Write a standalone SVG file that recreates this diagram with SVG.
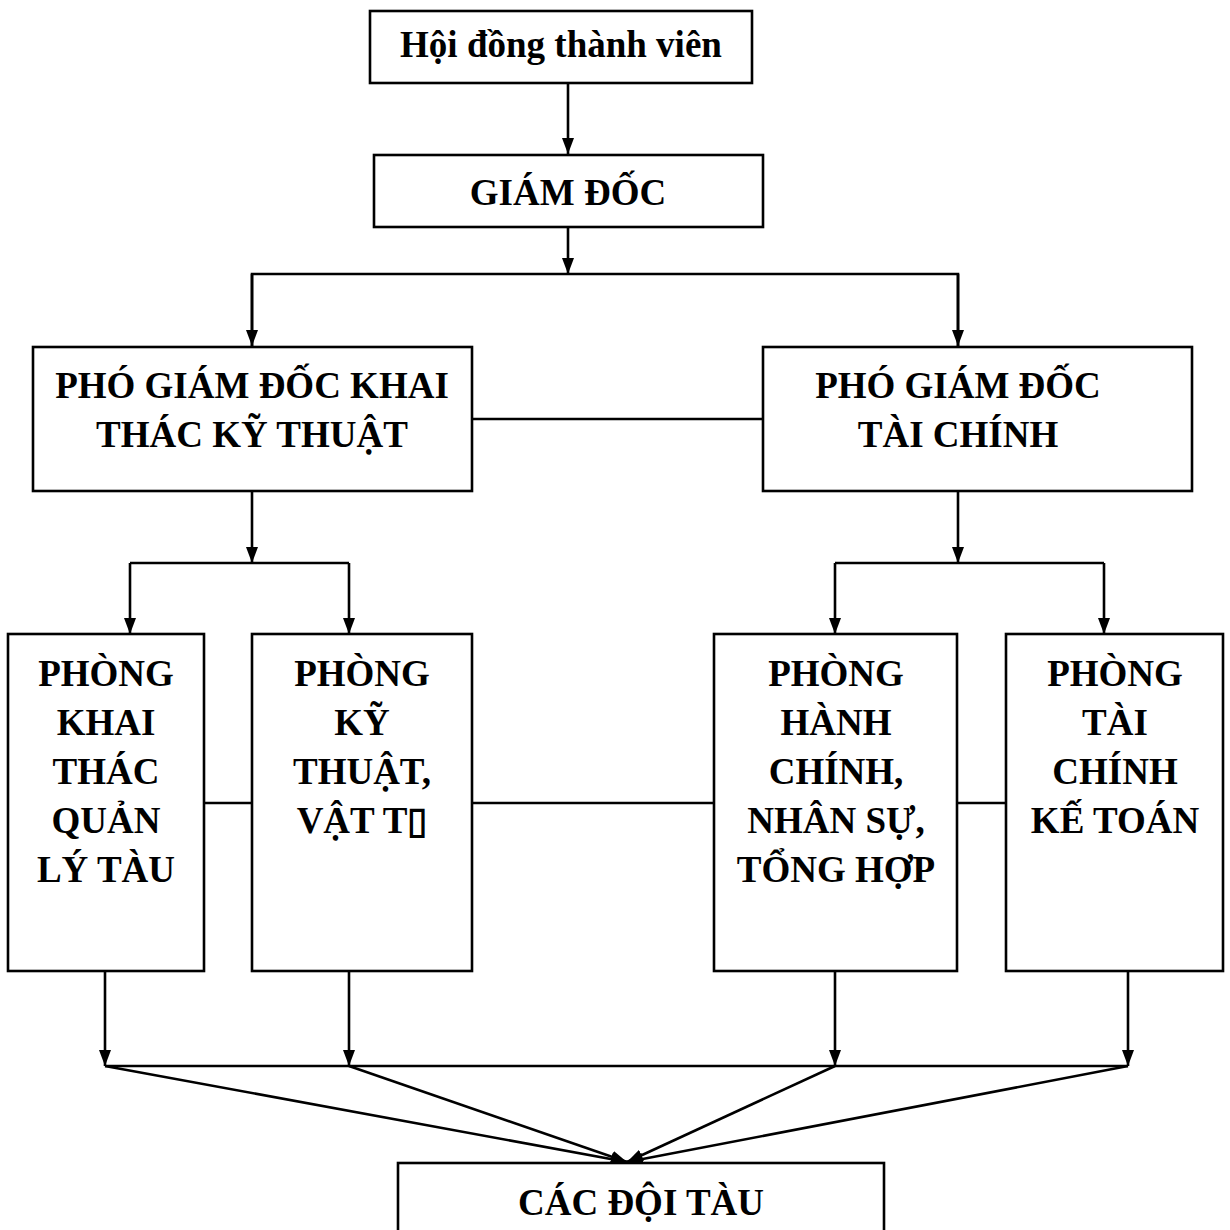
<svg xmlns="http://www.w3.org/2000/svg" width="1230" height="1230" viewBox="0 0 1230 1230">
<style>
.box{fill:#fff;stroke:#000;stroke-width:2.6}
.t{font-family:"Liberation Serif","Times New Roman",Tinos,serif;font-weight:bold;font-size:37px;fill:#000;text-anchor:middle}
.c{fill:none;stroke:#000;stroke-width:2.6}
</style>
<defs>
<marker id="ah" markerUnits="userSpaceOnUse" markerWidth="16" markerHeight="12" refX="16" refY="6" orient="auto" viewBox="0 0 16 12">
<path d="M0,0 L16,6 L0,12 z" fill="#000"/>
</marker>
</defs>
<rect width="1230" height="1230" fill="#fff"/>
<g id="connectors">
<line class="c" x1="568" y1="83" x2="568" y2="154" marker-end="url(#ah)"/>
<line class="c" x1="568" y1="227" x2="568" y2="274" marker-end="url(#ah)"/>
<polyline class="c" points="252,346 252,274 958,274 958,346"/>
<line class="c" x1="252" y1="274" x2="252" y2="346" marker-end="url(#ah)"/>
<line class="c" x1="958" y1="274" x2="958" y2="346" marker-end="url(#ah)"/>
<line class="c" x1="472" y1="419" x2="763" y2="419"/>
<line class="c" x1="252" y1="491" x2="252" y2="563" marker-end="url(#ah)"/>
<line class="c" x1="958" y1="491" x2="958" y2="563" marker-end="url(#ah)"/>
<line class="c" x1="130" y1="563" x2="349" y2="563"/>
<line class="c" x1="835" y1="563" x2="1104" y2="563"/>
<line class="c" x1="130" y1="563" x2="130" y2="634" marker-end="url(#ah)"/>
<line class="c" x1="349" y1="563" x2="349" y2="634" marker-end="url(#ah)"/>
<line class="c" x1="835" y1="563" x2="835" y2="634" marker-end="url(#ah)"/>
<line class="c" x1="1104" y1="563" x2="1104" y2="634" marker-end="url(#ah)"/>
<line class="c" x1="204" y1="803" x2="252" y2="803"/>
<line class="c" x1="472" y1="803" x2="714" y2="803"/>
<line class="c" x1="957" y1="803" x2="1006" y2="803"/>
<line class="c" x1="105" y1="971" x2="105" y2="1066" marker-end="url(#ah)"/>
<line class="c" x1="349" y1="971" x2="349" y2="1066" marker-end="url(#ah)"/>
<line class="c" x1="835" y1="971" x2="835" y2="1066" marker-end="url(#ah)"/>
<line class="c" x1="1128" y1="971" x2="1128" y2="1066" marker-end="url(#ah)"/>
<line class="c" x1="105" y1="1066" x2="1128" y2="1066"/>
<line class="c" x1="105" y1="1066" x2="627" y2="1162" marker-end="url(#ah)"/>
<line class="c" x1="349" y1="1066" x2="627" y2="1162" marker-end="url(#ah)"/>
<line class="c" x1="835" y1="1066" x2="627" y2="1162" marker-end="url(#ah)"/>
<line class="c" x1="1128" y1="1066" x2="627" y2="1162" marker-end="url(#ah)"/>
</g>
<g id="hdtv">
<rect class="box" x="370" y="11" width="382" height="72"/>
<text class="t" x="561" y="57">Hội đồng thành viên</text>
</g>
<g id="giamdoc">
<rect class="box" x="374" y="155" width="389" height="72"/>
<text class="t" x="568" y="205">GIÁM ĐỐC</text>
</g>
<g id="pgd-kt">
<rect class="box" x="33" y="347" width="439" height="144"/>
<text class="t" x="252" y="398">PHÓ GIÁM ĐỐC KHAI</text>
<text class="t" x="252" y="447">THÁC KỸ THUẬT</text>
</g>
<g id="pgd-tc">
<rect class="box" x="763" y="347" width="429" height="144"/>
<text class="t" x="958" y="398">PHÓ GIÁM ĐỐC</text>
<text class="t" x="958" y="447">TÀI CHÍNH</text>
</g>
<g id="p-khaithac">
<rect class="box" x="8" y="634" width="196" height="337"/>
<text class="t" x="106" y="686">PHÒNG</text>
<text class="t" x="106" y="735">KHAI</text>
<text class="t" x="106" y="784">THÁC</text>
<text class="t" x="106" y="833">QUẢN</text>
<text class="t" x="106" y="882">LÝ TÀU</text>
</g>
<g id="p-kythuat">
<rect class="box" x="252" y="634" width="220" height="337"/>
<text class="t" x="362" y="686">PHÒNG</text>
<text class="t" x="362" y="735">KỸ</text>
<text class="t" x="362" y="784">THUẬT,</text>
<text class="t" x="362" y="833">VẬT T▯</text>
</g>
<g id="p-hanhchinh">
<rect class="box" x="714" y="634" width="243" height="337"/>
<text class="t" x="836" y="686">PHÒNG</text>
<text class="t" x="836" y="735">HÀNH</text>
<text class="t" x="836" y="784">CHÍNH,</text>
<text class="t" x="836" y="833">NHÂN SỰ,</text>
<text class="t" x="836" y="882">TỔNG HỢP</text>
</g>
<g id="p-taichinh">
<rect class="box" x="1006" y="634" width="217" height="337"/>
<text class="t" x="1115" y="686">PHÒNG</text>
<text class="t" x="1115" y="735">TÀI</text>
<text class="t" x="1115" y="784">CHÍNH</text>
<text class="t" x="1115" y="833">KẾ TOÁN</text>
</g>
<g id="doitau">
<rect class="box" x="398" y="1163" width="486" height="90"/>
<text class="t" x="641" y="1215">CÁC ĐỘI TÀU</text>
</g>
</svg>
